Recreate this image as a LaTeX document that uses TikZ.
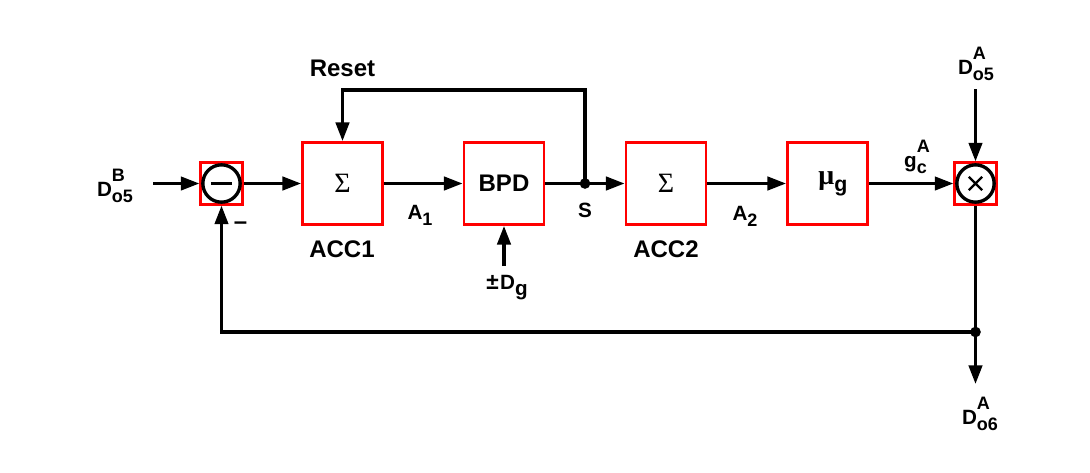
\documentclass[tikz,border=0pt]{standalone}
\usepackage{fontspec}
\setmainfont{Liberation Sans}
\newfontfamily\serifgreek{Liberation Serif}
\usetikzlibrary{arrows.meta}

\newcommand{\scr}{\fontsize{13.5}{14}\selectfont}
\newcommand{\lsub}[2]{#1\raisebox{-4.5pt}{\scr #2}}
\newcommand{\lsupsub}[3]{#1\begingroup\scr\setbox0=\hbox{#2}\setbox2=\hbox{#3}%
  \ifdim\wd0>\wd2 \wd2=\wd0\fi
  \rlap{\raisebox{11pt}{\box0}}\raisebox{-4.5pt}{\box2}\endgroup}

\begin{document}
\begin{tikzpicture}[x=0.75pt, y=-0.75pt,
    blk/.style={draw=red, line width=2.1pt, minimum width=60pt, minimum height=61.5pt,
        inner sep=0pt, font=\fontsize{18}{20}\selectfont\bfseries},
    jbox/.style={draw=red, line width=2.1pt, minimum size=31pt, inner sep=0pt},
    sig/.style={line width=2.5pt, -{Triangle[length=14pt, width=10pt]}},
    wire/.style={line width=2.5pt},
    lbl/.style={inner sep=0pt, font=\fontsize{15.5}{16}\selectfont\bfseries},
    big/.style={inner sep=0pt, font=\fontsize{18}{20}\selectfont\bfseries},
    sigma/.style={font=\fontsize{21}{22}\selectfont\serifgreek}]
    \useasboundingbox (0,0) rectangle (1090,472);

    % Blocks
    \node[blk, sigma] (acc1) at (342.5,183.5) {Σ};
    \node[blk] (bpd) at (504,183.5) {BPD};
    \node[blk, sigma] (acc2) at (666,183.5) {Σ};
    \node[blk] (mu) at (827.5,183.5)
        {\hspace{8pt}{\fontsize{21}{22}\selectfont\serifgreek μ}\raisebox{-5pt}{\fontsize{16}{16}\selectfont g}};
    \node[big] at (342,249) {ACC1};
    \node[big] at (666,249) {ACC2};

    % Comparator and multiplier
    \node[jbox] (sub) at (221.5,183.5) {};
    \draw[line width=2.5pt] (sub.center) circle (14pt);
    \draw[line width=2.5pt] ([xshift=-8pt]sub.center) -- ([xshift=8pt]sub.center);
    \node[jbox] (mul) at (975.5,183.5) {};
    \draw[line width=2.5pt] (mul.center) circle (14pt);
    \draw[line width=1.8pt] ([shift={(-5pt,-5pt)}]mul.center) -- ([shift={(5pt,5pt)}]mul.center)
        ([shift={(-5pt,5pt)}]mul.center) -- ([shift={(5pt,-5pt)}]mul.center);

    % Inputs, outputs and branch points
    \node[lbl] (dB) at (115,186) {\lsupsub{D}{B}{o5}};
    \node[lbl] (dA5) at (976,64) {\lsupsub{D}{A}{o5}};
    \node[lbl] (dA6) at (980,414) {\lsupsub{D}{A}{o6}};
    \node[lbl] (dg) at (507,288) {{\fontsize{17}{17}\selectfont ±}\kern1pt\lsub{D}{\fontsize{15.5}{16}\selectfont g}};
    \coordinate (bin) at (153,183.5);
    \coordinate (a5in) at (975.5,89);
    \coordinate (a6out) at (975.5,384);
    \coordinate (dgin) at (504,266);
    \coordinate (s) at (585,183.5);
    \coordinate (rtop) at (585,90);
    \coordinate (fb) at (975.5,332);

    % Forward path
    \draw[sig] (bin) -- (sub);
    \draw[sig] (sub) -- (acc1);
    \draw[sig] (acc1) -- (bpd);
    \draw[sig] (bpd) -- (acc2);
    \draw[sig] (acc2) -- (mu);
    \draw[sig] (mu) -- (mul);
    \draw[sig] (a5in) -- (mul);
    \draw[sig] (dgin) -- (bpd);

    % Reset and feedback loops
    \draw[sig] (s) -- (rtop) -| (acc1);
    \draw[wire] (mul) -- (fb);
    \draw[sig] (fb) -- (a6out);
    \draw[sig] (fb) -| (sub);
    \fill (s) circle (4pt);
    \fill (fb) circle (4pt);

    % Signal names
    \node[big] at (342.5,68.5) {Reset};
    \node[lbl] at (420,215) {\lsub{A}{1}};
    \node[lbl] at (585,210.5) {S};
    \node[lbl] at (745,216) {\lsub{A}{2}};
    \node[lbl] at (917,157) {\lsupsub{g}{A}{c}};
    \node[big] at (240.5,226) {–};
\end{tikzpicture}
\end{document}
